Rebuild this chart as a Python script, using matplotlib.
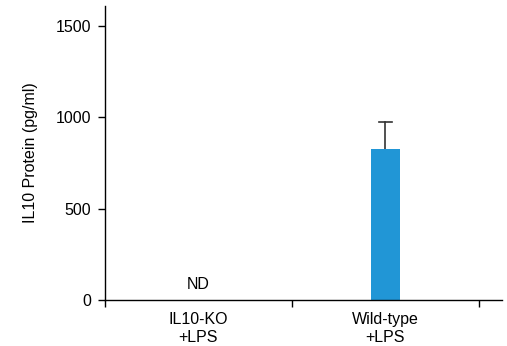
import matplotlib.pyplot as plt
import numpy as np

plt.rcParams['font.family'] = ['Liberation Sans', 'DejaVu Sans']

# data
groups = ['IL10-KO\n+LPS', 'Wild-type\n+LPS']
il10 = [0, 825]
err_up = [0, 150]
detected = [False, True]
yticks = [0, 500, 1000, 1500]

fig = plt.figure(figsize=(5.07, 3.46), dpi=100)
ax = fig.add_axes([0.207, 0.134, 0.783, 0.849])

x = np.arange(len(groups))
for xi, v, e, ok in zip(x, il10, err_up, detected):
    if ok:
        ax.bar(xi, v, width=0.155, color='#2196D6', zorder=2)
        # upper error only
        ax.plot([xi, xi], [v, v + e], color='#333333', lw=1.2, zorder=1)
        ax.plot([xi - 0.035, xi + 0.035], [v + e, v + e], color='#333333',
                lw=1.2, zorder=1)
    else:
        ax.text(xi, 40, 'ND', ha='center', va='bottom', fontsize=11.5)

ax.set_xlim(-0.5, 1.623)
ax.set_ylim(0, 1612)
ax.set_yticks(yticks)
ax.set_xticks(x)
ax.set_xticklabels(groups, fontsize=11.5)
ax.set_xticks([-0.5, 0.5, 1.5], minor=True)
ax.tick_params(axis='x', which='major', length=0, pad=9)
ax.tick_params(axis='x', which='minor', length=5, width=1, direction='out')
ax.tick_params(axis='y', length=5, width=1, labelsize=11.5, pad=5)
ax.set_ylabel('IL10 Protein (pg/ml)', fontsize=11.5, labelpad=13)

for s in ['top', 'right']:
    ax.spines[s].set_visible(False)
for s in ['left', 'bottom']:
    ax.spines[s].set_linewidth(1)

fig.savefig('out.png', dpi=100)
